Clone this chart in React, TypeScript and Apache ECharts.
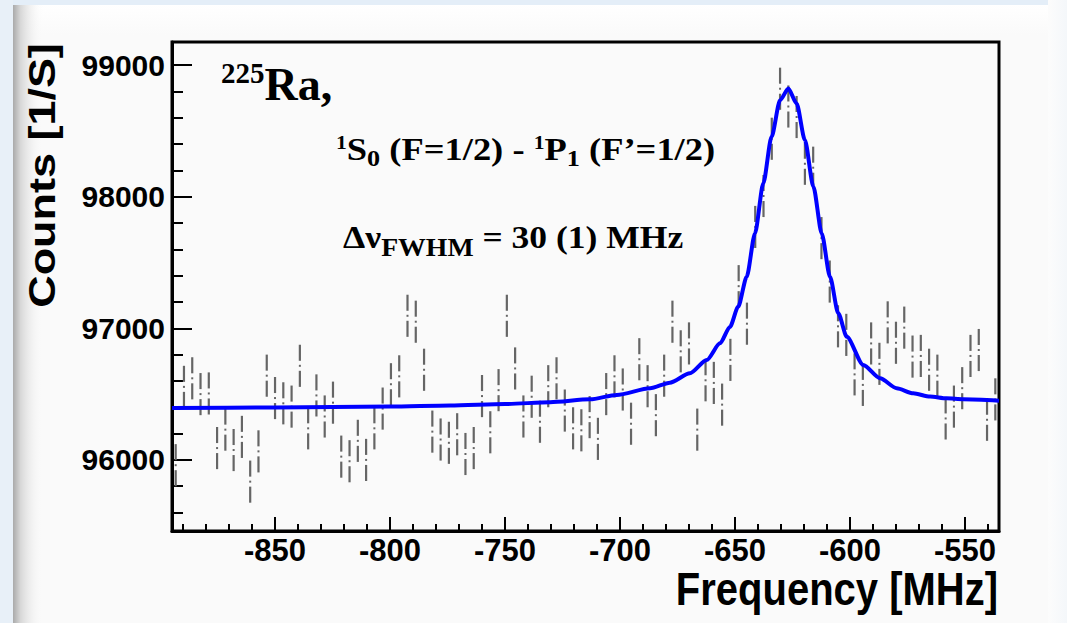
import React, { useEffect, useRef } from "react";
import * as echarts from "echarts";

// Bin centres [MHz]
const FREQ = [
  -893.2, -889.6, -886.0, -882.4, -878.8, -875.2, -871.6, -868.0, -864.4, -860.8,
  -857.2, -853.6, -850.0, -846.4, -842.8, -839.2, -835.6, -832.0, -828.4, -824.8,
  -821.2, -817.6, -814.0, -810.4, -806.8, -803.2, -799.6, -796.0, -792.4, -788.8,
  -785.2, -781.6, -778.0, -774.4, -770.8, -767.2, -763.6, -760.0, -756.4, -752.8,
  -749.2, -745.6, -742.0, -738.4, -734.8, -731.2, -727.6, -724.0, -720.4, -716.8,
  -713.2, -709.6, -706.0, -702.4, -698.8, -695.2, -691.6, -688.0, -684.4, -680.8,
  -677.2, -673.6, -670.0, -666.4, -662.8, -659.2, -655.6, -652.0, -648.4, -644.8,
  -641.2, -637.6, -634.0, -630.4, -626.8, -623.2, -619.6, -616.0, -612.4, -608.8,
  -605.2, -601.6, -598.0, -594.4, -590.8, -587.2, -583.6, -580.0, -576.4, -572.8,
  -569.2, -565.6, -562.0, -558.4, -554.8, -551.2, -547.6, -544.0, -540.4, -536.8,
];

// Measured counts [1/S]
const COUNTS = [
  95960, 96555, 96620, 96500, 96505, 96090, 96230, 96075, 96175, 95835,
  96065, 96640, 96470, 96430, 96405, 96715, 96240, 96490, 96330, 96435,
  96025, 95990, 96145, 96000, 96240, 96390, 96575, 96635, 97095, 97050,
  96685, 96215, 96155, 96130, 96195, 96045, 96090, 96485, 96210, 96530,
  97095, 96695, 96330, 96480, 96290, 96560, 96620, 96375, 96240, 96225,
  96325, 96160, 96500, 96635, 96535, 96275, 96765, 96560, 96340, 96640,
  97050, 96825, 96885, 96230, 96605, 96585, 96420, 96760, 97320, 97035,
  97770, 98005, 98440, 98820, 98685, 98605, 98250, 98220, 97685, 97355,
  97015, 96950, 96650, 96570, 96885, 96730, 97045, 96890, 97005, 96785,
  96790, 96685, 96640, 96315, 96405, 96545, 96790, 96835, 96305, 96460,
];

// Statistical error (half length of the error bar)
const ERR = 160;

// Lorentzian fit curve
const FIT_FREQ = [
  -894.8, -850, -800, -773.9, -750, -730.4, -713.0, -701.4, -686.9, -678.3,
  -669.6, -662.3, -656.5, -652.2, -648.6, -644.9, -641.3, -637.7, -634.1, -630.4,
  -626.8, -623.2, -619.6, -615.9, -612.3, -608.7, -605.1, -601.4, -594.2, -586.9,
  -579.7, -572.5, -565.2, -558.0, -550.7, -535.2,
];
const FIT_COUNTS = [
  96395, 96398, 96405, 96413, 96425, 96438, 96460, 96494, 96544, 96587,
  96658, 96759, 96886, 97010, 97164, 97392, 97721, 98101, 98455, 98733,
  98822, 98708, 98430, 98075, 97721, 97392, 97114, 96936, 96721, 96620,
  96544, 96506, 96481, 96468, 96461, 96450,
];

const SERIF = '"Liberation Serif", "Times New Roman", serif';
const SANS = '"Liberation Sans", Arial, Helvetica, sans-serif';

const tok = (size: number, lh: number, va: string) => ({
  fontFamily: SERIF, fontWeight: "bold", fontSize: size, lineHeight: lh, verticalAlign: va, fill: "#000",
});

export default function App() {
  const ref = useRef<HTMLDivElement>(null);

  useEffect(() => {
    const chart = echarts.init(ref.current as HTMLDivElement, null, { renderer: "svg" });
    const errData = FREQ.map((f, i) => [f, COUNTS[i], ERR]);
    const fitData = FIT_FREQ.map((f, i) => [f, FIT_COUNTS[i]]);

    chart.setOption({
      animation: false,
      backgroundColor: "#fafafa",
      grid: {
        left: 172, right: 68, top: 42, bottom: 92,
        show: true, borderColor: "#000", borderWidth: 3, backgroundColor: "transparent",
      },
      xAxis: {
        type: "value", min: -894.8, max: -535.2, splitNumber: 7,
        axisLine: { show: true, onZero: false, lineStyle: { color: "#000", width: 3 } },
        axisTick: { show: true, inside: true, length: 14, lineStyle: { color: "#000", width: 2 } },
        minorTick: { show: true, splitNumber: 5, length: 7, lineStyle: { color: "#000", width: 2 } },
        axisLabel: {
          show: true, showMinLabel: false, showMaxLabel: false, margin: 4,
          color: "#000", fontFamily: SANS, fontWeight: "bold", fontSize: 31,
        },
        splitLine: { show: false },
      },
      yAxis: {
        type: "value", min: 95460, max: 99175, splitNumber: 4,
        axisLine: { show: true, onZero: false, lineStyle: { color: "#000", width: 3 } },
        axisTick: { show: true, inside: true, length: 20, lineStyle: { color: "#000", width: 2 } },
        minorTick: { show: true, splitNumber: 5, length: 11, lineStyle: { color: "#000", width: 2 } },
        axisLabel: {
          show: true, showMinLabel: false, showMaxLabel: false, margin: 7,
          color: "#000", fontFamily: SANS, fontWeight: "bold", fontSize: 30,
          formatter: (v: number) => String(v),
        },
        splitLine: { show: false },
      },
      series: [
        {
          type: "custom",
          data: errData,
          clip: true,
          z: 3,
          encode: { x: 0, y: 1 },
          renderItem: (params: any, api: any) => {
            const x = api.value(0);
            const y = api.value(1);
            const e = api.value(2);
            const top = api.coord([x, y + e]);
            const bot = api.coord([x, y - e]);
            const c = api.coord([x, y]);
            const gap = 5;
            const style = { stroke: "#656565", lineWidth: 2.2 };
            return {
              type: "group",
              children: [
                { type: "line", shape: { x1: c[0], y1: top[1], x2: c[0], y2: c[1] - gap }, style },
                { type: "line", shape: { x1: c[0], y1: c[1] + gap, x2: c[0], y2: bot[1] }, style },
                { type: "rect", shape: { x: c[0] - 1, y: c[1] - 1, width: 2, height: 2 }, style: { fill: "#656565" } },
              ],
            };
          },
        },
        {
          type: "line",
          data: fitData,
          showSymbol: false,
          symbol: "none",
          clip: true,
          z: 5,
          smooth: 0.25,
          smoothMonotone: "x",
          lineStyle: { color: "#0000ff", width: 4 },
        },
      ],
      graphic: [
        // slide frame decoration
        { type: "rect", z: -5, shape: { x: 0, y: 0, width: 1067, height: 5 }, style: { fill: "#e4eef8" } },
        {
          type: "rect", z: -5, shape: { x: 0, y: 5, width: 1067, height: 30 },
          style: { fill: new echarts.graphic.LinearGradient(0, 0, 0, 1, [
            { offset: 0, color: "#ffffff" }, { offset: 1, color: "#fafafa" },
          ]) },
        },
        { type: "rect", z: -5, shape: { x: 0, y: 0, width: 13, height: 623 }, style: { fill: "#e8f0f8" } },
        {
          type: "rect", z: -4, shape: { x: 13, y: 5, width: 30, height: 618 },
          style: { fill: new echarts.graphic.LinearGradient(0, 0, 1, 0, [
            { offset: 0, color: "rgba(170,170,170,1)" }, { offset: 0.25, color: "rgba(215,215,215,1)" },
            { offset: 1, color: "rgba(250,250,250,0)" },
          ]) },
        },
        {
          type: "rect", z: -5, shape: { x: 1048, y: 0, width: 19, height: 623 },
          style: { fill: new echarts.graphic.LinearGradient(0, 0, 1, 0, [
            { offset: 0, color: "#fcfcfc" }, { offset: 1, color: "#f4f7fa" },
          ]) },
        },
        // annotations
        {
          type: "text", z: 50, x: 221, y: 58.3,
          style: {
            x: 0, y: 0, text: "{sup|225}{m|Ra,}", fill: "#000", align: "left", verticalAlign: "top",
            rich: { sup: tok(29, 30, "top"), m: tok(46, 49.2, "bottom") },
          },
        },
        {
          type: "text", z: 50, x: 336, y: 133.2, scaleX: 1.14,
          style: {
            x: 0, y: 0,
            text: "{sup|1}{m|S}{sub|0}{m| (F=1/2) - }{sup|1}{m|P}{sub|1}{m| (F\u2019=1/2)}",
            fill: "#000", align: "left", verticalAlign: "top",
            rich: { m: tok(32, 32, "top"), sup: tok(19, 19, "top"), sub: tok(23, 36.5, "bottom") },
          },
        },
        {
          type: "text", z: 50, x: 343, y: 221.2, scaleX: 1.11,
          style: {
            x: 0, y: 0,
            text: "{m|\u0394\u03bd}{sub|FWHM}{m| = 30 (1) MHz}",
            fill: "#000", align: "left", verticalAlign: "top",
            rich: { m: tok(32, 32, "top"), sub: tok(25, 38.9, "bottom") },
          },
        },
        // axis titles
        {
          type: "text", z: 50, x: 998, y: 589, scaleY: 1.15,
          style: {
            x: 0, y: 0, text: "Frequency [MHz]", fill: "#000", align: "right", verticalAlign: "middle",
            font: `bold 40px ${SANS}`,
          },
        },
        {
          type: "text", z: 50, x: 42, y: 175.5, rotation: Math.PI / 2, scaleX: 1.215,
          style: {
            x: 0, y: 0, text: "Counts [1/S]", fill: "#000", align: "center", verticalAlign: "middle",
            font: `bold 37px ${SANS}`,
          },
        },
      ],
    });

    return () => chart.dispose();
  }, []);

  return <div ref={ref} style={{ position: "fixed", left: 0, top: 0, width: 1067, height: 623 }} />;
}
